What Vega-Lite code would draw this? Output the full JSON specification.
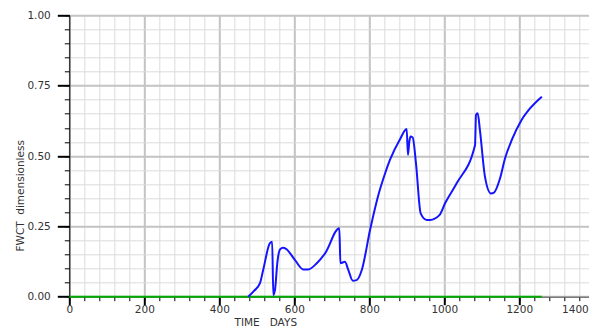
{
  "$schema": "https://vega.github.io/schema/vega-lite/v6.json",
  "width": 525,
  "height": 281.4,
  "autosize": {"type": "none"},
  "padding": {"left": 69.3, "top": 15.3, "right": 0, "bottom": 38.3},
  "background": "#ffffff",
  "config": {
    "view": {"stroke": null},
    "axis": {
      "labelFont": "DejaVu Sans",
      "labelFontSize": 10.5,
      "labelColor": "#333333",
      "titleFont": "DejaVu Sans",
      "titleFontSize": 10.5,
      "titleFontWeight": "normal",
      "titleColor": "#333333",
      "tickColor": "#000000"
    }
  },
  "datasets": {
    "green": [
      {"t": 0, "fwct": 0},
      {"t": 1260, "fwct": 0}
    ],
    "blue": [
      {"t": 477, "fwct": 0.0},
      {"t": 492, "fwct": 0.02},
      {"t": 508.5, "fwct": 0.048},
      {"t": 517, "fwct": 0.095},
      {"t": 535, "fwct": 0.19},
      {"t": 541, "fwct": 0.195},
      {"t": 544, "fwct": 0.006},
      {"t": 548.5, "fwct": 0.024},
      {"t": 555, "fwct": 0.124},
      {"t": 562, "fwct": 0.168},
      {"t": 570, "fwct": 0.174},
      {"t": 578, "fwct": 0.17},
      {"t": 602, "fwct": 0.13},
      {"t": 624, "fwct": 0.097},
      {"t": 637, "fwct": 0.097},
      {"t": 660, "fwct": 0.119},
      {"t": 682, "fwct": 0.154},
      {"t": 720, "fwct": 0.243},
      {"t": 723, "fwct": 0.119},
      {"t": 735, "fwct": 0.124},
      {"t": 744, "fwct": 0.095},
      {"t": 756, "fwct": 0.057},
      {"t": 766, "fwct": 0.059},
      {"t": 780, "fwct": 0.095},
      {"t": 802, "fwct": 0.237},
      {"t": 826, "fwct": 0.37},
      {"t": 842, "fwct": 0.438},
      {"t": 855, "fwct": 0.486},
      {"t": 881.6, "fwct": 0.559},
      {"t": 899.7, "fwct": 0.596},
      {"t": 903, "fwct": 0.504},
      {"t": 906.7, "fwct": 0.551},
      {"t": 910, "fwct": 0.569},
      {"t": 915.7, "fwct": 0.566},
      {"t": 924.5, "fwct": 0.474},
      {"t": 937, "fwct": 0.296},
      {"t": 953, "fwct": 0.273},
      {"t": 962, "fwct": 0.273},
      {"t": 987, "fwct": 0.29},
      {"t": 1002, "fwct": 0.332},
      {"t": 1033, "fwct": 0.403},
      {"t": 1082, "fwct": 0.539},
      {"t": 1084.5, "fwct": 0.646},
      {"t": 1089, "fwct": 0.652},
      {"t": 1095, "fwct": 0.592},
      {"t": 1108.5, "fwct": 0.426},
      {"t": 1124.5, "fwct": 0.367},
      {"t": 1132.5, "fwct": 0.37},
      {"t": 1148.5, "fwct": 0.42},
      {"t": 1162, "fwct": 0.492},
      {"t": 1180, "fwct": 0.557},
      {"t": 1206, "fwct": 0.628},
      {"t": 1228.5, "fwct": 0.669},
      {"t": 1260, "fwct": 0.711}
    ]
  },
  "layer": [
    {
      "data": {"name": "green"},
      "mark": {"type": "line", "color": "#00aa00", "strokeWidth": 2},
      "encoding": {
        "x": {
          "field": "t", "type": "quantitative",
          "scale": {"domain": [0, 1400], "nice": false, "zero": true},
          "axis": {
            "orient": "bottom",
            "values": [0,40,80,120,160,200,240,280,320,360,400,440,480,520,560,600,640,680,720,760,800,840,880,920,960,1000,1040,1080,1120,1160,1200,1240,1280,1320,1360,1400],
            "grid": true, "gridColor": "#dcdcdc", "gridWidth": 1,
            "ticks": true, "tickSize": 4, "tickWidth": 1,
            "labels": false, "domain": false, "title": null
          }
        },
        "y": {
          "field": "fwct", "type": "quantitative",
          "scale": {"domain": [0, 1], "nice": false},
          "axis": {
            "orient": "left",
            "values": [0,0.05,0.1,0.15,0.2,0.25,0.3,0.35,0.4,0.45,0.5,0.55,0.6,0.65,0.7,0.75,0.8,0.85,0.9,0.95,1],
            "grid": true, "gridColor": "#dcdcdc", "gridWidth": 1,
            "ticks": true, "tickSize": 5, "tickWidth": 1,
            "labels": false, "domain": false, "title": null
          }
        }
      }
    },
    {
      "data": {"name": "blue"},
      "mark": {"type": "line", "color": "#1414ff", "strokeWidth": 2, "interpolate": "monotone"},
      "encoding": {
        "x": {
          "field": "t", "type": "quantitative",
          "axis": {
            "orient": "bottom",
            "values": [0,200,400,600,800,1000,1200,1400],
            "format": "d",
            "grid": true, "gridColor": "#c4c4c4", "gridWidth": 2,
            "ticks": true, "tickSize": 8, "tickWidth": 2,
            "labelPadding": 0,
            "labelAlign": {"condition": {"test": "datum.value == 1400", "value": "right"}, "value": "center"},
            "labelOffset": {"condition": {"test": "datum.value == 1400", "value": -6}, "value": 0},
            "domain": true, "domainColor": "#555555", "domainWidth": 1,
            "title": "TIME\u00a0\u00a0\u00a0DAYS",
            "titleX": 196, "titleY": 21, "titleAlign": "center", "titleBaseline": "top"
          }
        },
        "y": {
          "field": "fwct", "type": "quantitative",
          "axis": {
            "orient": "left",
            "values": [0,0.25,0.5,0.75,1],
            "format": ".2f",
            "grid": true, "gridColor": "#c4c4c4", "gridWidth": 2,
            "ticks": true, "tickSize": 12, "tickWidth": 2,
            "labelPadding": 7, "labelBaseline": "middle",
            "domain": true, "domainColor": "#000000", "domainWidth": 1,
            "title": "FWCT\u00a0\u00a0dimensionless",
            "titleAngle": 270, "titleX": -49, "titleY": 180,
            "titleAlign": "center", "titleBaseline": "middle"
          }
        }
      }
    }
  ],
  "resolve": {"axis": {"x": "independent", "y": "independent"}}
}
